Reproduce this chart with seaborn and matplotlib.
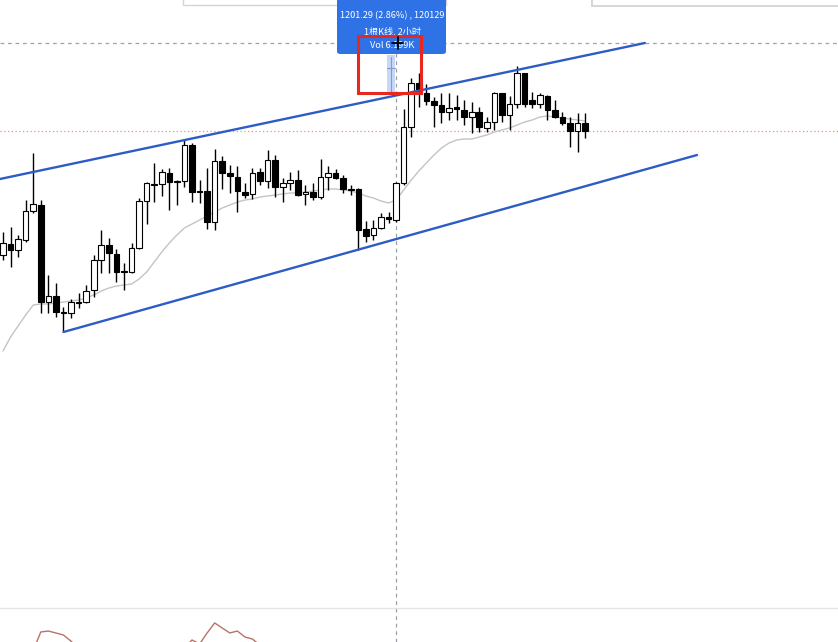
import numpy as np
import matplotlib
matplotlib.use("Agg")
import matplotlib.pyplot as plt
from matplotlib.patches import Rectangle, FancyBboxPatch
import seaborn as sns

sns.set_style("white")
plt.rcParams["font.family"] = ["Noto Sans CJK SC", "DejaVu Sans"]

# 2h candles
opens = [989, 1000, 994, 1004, 1033, 1039, 942, 948, 932, 931,
         942, 942, 954, 984, 999, 990, 973, 972, 996, 1043,
         1060, 1060, 1071, 1062, 1063, 1099, 1053, 1053, 1022, 1083,
         1071, 1067, 1052, 1050, 1072, 1063, 1084, 1057, 1061, 1064,
         1050, 1052, 1047, 1067, 1071, 1066, 1055, 1055, 1015, 1009,
         1016, 1027, 1024, 1061, 1117, 1161, 1151, 1143, 1139, 1132,
         1137, 1134, 1127, 1132, 1116, 1122, 1151, 1129, 1140, 1171,
         1144, 1140, 1148, 1134, 1127, 1121, 1113, 1121]
highs = [1012, 1017, 1009, 1044, 1091, 1044, 969, 961, 937, 945,
         951, 959, 989, 1014, 1006, 995, 981, 1001, 1046, 1062,
         1081, 1075, 1076, 1064, 1105, 1101, 1064, 1076, 1095, 1088,
         1079, 1078, 1061, 1076, 1076, 1094, 1089, 1066, 1072, 1074,
         1059, 1061, 1085, 1078, 1075, 1069, 1059, 1056, 1023, 1024,
         1031, 1032, 1062, 1135, 1166, 1171, 1160, 1147, 1151, 1151,
         1149, 1144, 1142, 1137, 1127, 1152, 1151, 1148, 1178, 1171,
         1152, 1151, 1149, 1144, 1132, 1127, 1131, 1131]
lows = [984, 977, 987, 1002, 1031, 931, 931, 927, 912, 926,
        936, 941, 947, 971, 971, 962, 954, 971, 995, 1020,
        1042, 1048, 1034, 1039, 1057, 1042, 1041, 1015, 1014, 1055,
        1051, 1032, 1046, 1045, 1059, 1056, 1047, 1042, 1054, 1048,
        1039, 1044, 1045, 1054, 1065, 1051, 1049, 994, 1002, 1004,
        1015, 1021, 1022, 1059, 1107, 1137, 1139, 1117, 1121, 1124,
        1124, 1119, 1111, 1112, 1112, 1114, 1122, 1114, 1136, 1137,
        1136, 1136, 1124, 1126, 1119, 1097, 1092, 1106]
closes = [1001, 994, 1005, 1033, 1040, 942, 948, 932, 931, 942,
          941, 953, 984, 999, 991, 972, 972, 996, 1043, 1061,
          1059, 1072, 1062, 1063, 1099, 1052, 1052, 1022, 1083, 1071,
          1068, 1053, 1049, 1071, 1063, 1084, 1057, 1061, 1064, 1049,
          1052, 1047, 1067, 1071, 1066, 1055, 1054, 1014, 1008, 1016,
          1027, 1025, 1061, 1117, 1161, 1151, 1143, 1139, 1132, 1136,
          1135, 1127, 1132, 1117, 1122, 1151, 1129, 1140, 1171, 1140,
          1140, 1149, 1134, 1127, 1121, 1113, 1121, 1113]
ma = [893, 907, 918, 929, 939, 940, 940, 941, 942, 943,
      944, 946, 949, 953, 956, 958, 959, 960, 965, 972,
      982, 992, 1001, 1009, 1016, 1020, 1024, 1028, 1032, 1036,
      1039, 1042, 1044, 1045, 1047, 1048, 1049, 1050, 1051, 1051,
      1052, 1053, 1054, 1055, 1055, 1054, 1053, 1051, 1048, 1046,
      1043, 1041, 1044, 1054, 1064, 1073, 1081, 1089, 1096, 1101,
      1104, 1105, 1105, 1107, 1109, 1112, 1114, 1116, 1119, 1122,
      1124, 1127, 1128, 1127, 1126, 1125, 1124, 1123]

# lower pane oscillator, only the part that pokes into view
osc = [None] * 4 + [30, 51.8, 52.9, 50.6, 48.2, 41, 32] + [None] * 13 + \
      [33, 42.4, 37.6, 50.6, 62.4, 56.5, 50.6, 52.9, 45.9, 43.5, 36] + [None] * 43

# drawn channel (candle index, price)
upper_x, upper_y = [-0.4, 84.9], [1065, 1201]
lower_x, lower_y = [8, 91.8], [912, 1089]

cross_idx = 52
cross_price = 1201
tip_lines = ["1201.29 (2.86%) , 120129", "1根K线, 2小时", "Vol 6.199K"]

W, H = 838, 642
step = 7.56  # px per candle
fig = plt.figure(figsize=(W / 100, H / 100), dpi=100)
ax = fig.add_axes([0, 0, 1, 1])
ax.set_xlim(-3 / step, (W - 3) / step)
ax.set_ylim(1244 - H, 1244)
ax.axis("off")

idx = np.arange(len(opens))
o, h, l, c = map(np.array, (opens, highs, lows, closes))
up = c >= o

# crosshair + last price line
ax.axvline(cross_idx, color="#9aa0a6", ls=(0, (3, 3)), lw=0.9, zorder=1)
ax.axhline(cross_price, color="#a0a4a8", ls=(0, (3, 3)), lw=0.9, zorder=1)
ax.axhline(closes[-1], color="#ef8c84", ls=(0, (1, 2)), lw=0.9, zorder=1)

sns.lineplot(x=idx, y=ma, ax=ax, color="#c4c4c4", lw=1, zorder=2)

ax.vlines(idx, l, h, color="black", lw=1, zorder=3)
body = np.maximum(np.abs(c - o), 1)
ax.bar(idx, body, bottom=np.minimum(o, c), width=0.74,
       color=np.where(up, "white", "black"), edgecolor="black", lw=0.8, zorder=4)

ax.plot(upper_x, upper_y, color="#2d5cc4", lw=1.7, zorder=5)
ax.plot(lower_x, lower_y, color="#2d5cc4", lw=1.7, zorder=5)

# lower pane
ax2 = fig.add_axes([0, 0, 1, 34 / H])
ax2.set_xlim(ax.get_xlim())
ax2.set_ylim(40, 80)
ax2.axis("off")
ax2.patch.set_alpha(0)
osc_arr = np.array([np.nan if v is None else v for v in osc], dtype=float)
ax2.plot(idx, osc_arr, color="#b87268", lw=1)
fig.add_artist(plt.Line2D([0, 1], [1 - 608 / H] * 2, color="#e4e4e4", lw=1))


def px(x, y):
    return x / W, 1 - y / H


# top UI panels
fig.add_artist(Rectangle(px(183, 5), 263 / W, 0.05, fc="white", ec="#d4d4d4", lw=1))
fig.add_artist(Rectangle(px(592, 6), 250 / W, 0.05, fc="white", ec="#cfcfcf", lw=1.2))

# tooltip
fig.add_artist(Rectangle(px(387, 95), 8 / W, 40 / H, fc="#c6d8f6", ec="none", zorder=9))
fig.add_artist(plt.Line2D([391 / W] * 2, [1 - 57 / H, 1 - 92 / H], color="#7f9bd0", lw=0.8, zorder=9))
fig.add_artist(plt.Line2D([387 / W, 395 / W], [1 - 68 / H] * 2, color="#7f9bd0", lw=0.8, zorder=9))
fig.add_artist(FancyBboxPatch(px(337, 54), 109 / W, 60 / H, boxstyle="round,pad=0,rounding_size=0.004",
                              fc="#2f72e6", ec="none", zorder=10))
for yy, txt in zip([16, 31, 45], tip_lines):
    fig.text(*px(392, yy), txt, color="white", fontsize=6.6, ha="center", va="center",
             fontweight="medium", zorder=11)
fig.add_artist(Rectangle(px(358, 93), 63 / W, 57 / H, fill=False, ec="#e8281e", lw=2.2, zorder=12))
# mouse cursor
fig.add_artist(plt.Line2D([392 / W, 403 / W], [1 - 43 / H] * 2, color="black", lw=1.3, zorder=14))
fig.add_artist(plt.Line2D([397.5 / W] * 2, [1 - 37 / H, 1 - 49 / H], color="black", lw=1.3, zorder=14))

fig.savefig("out.png", dpi=100)
